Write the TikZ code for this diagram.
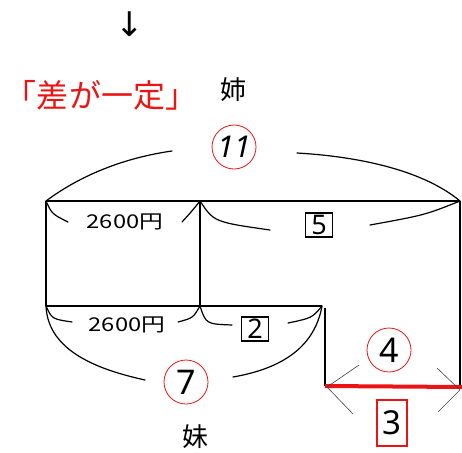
\documentclass[tikz,border=0pt]{standalone}
\usepackage{fontspec}
\setmainfont{Noto Sans}
\newfontfamily\jpfont{Noto Sans CJK JP}
\newfontfamily\symfont{DejaVu Sans}
\usetikzlibrary{shapes.geometric}
\definecolor{myred}{RGB}{235,20,20}
\tikzset{
  x=1pt, y=-1pt,
  ink/.style={line width=1.3pt, black},
  brace/.style={line width=1.2pt, black, line cap=round},
  thin/.style={line width=0.6pt, black!75},
  rcirc/.style={circle, draw=myred, line width=0.8pt, minimum size=44pt, inner sep=0pt, font=\fontsize{34}{34}\selectfont},
  bbox/.style={draw=black, line width=1.3pt, inner sep=1pt, minimum width=27pt, minimum height=24pt, font=\fontsize{27}{27}\selectfont},
  yen/.style={font=\fontsize{19}{19}\selectfont\jpfont, inner sep=0pt},
  jp/.style={font=\fontsize{26}{26}\selectfont\jpfont, inner sep=0pt},
}
\begin{document}
\begin{tikzpicture}
\useasboundingbox (0,0) rectangle (462,452);
% texts
\node[font=\fontsize{34}{34}\selectfont\symfont, inner sep=0pt] (arr) at (130,24) {↓};
\node[font=\fontsize{32}{32}\selectfont\jpfont, text=myred, inner sep=0pt] (title) at (101,95) {「差が一定」};
\node[jp] (ane) at (233,90) {姉};
\node[jp] (imo) at (195,437) {妹};
% corner points
\coordinate (A) at (46,201);
\coordinate (B) at (200,201);
\coordinate (C) at (460,201);
\coordinate (D) at (46,306);
\coordinate (E) at (200,306);
\coordinate (F) at (322,306);
\coordinate (Ft) at (325,308);
\coordinate (G) at (325,386);
\coordinate (H) at (462,387);
\coordinate (Cb) at (460,388);
% frame lines
\draw[ink] (A) -- (C);
\draw[ink] (A) -- (D);
\draw[ink] (B) -- (E);
\draw[ink] (D) -- (F);
\draw[ink] (Ft) -- (G);
\draw[ink] (C) -- (Cb);
\draw[myred, line width=4pt] (G) -- (H);
% labels
\node[rcirc, font=\fontsize{30}{30}\selectfont\itshape] (n11) at (234,147) {11};
\node[yen] (y1) at (125,222) {\scalebox{1.25}[1]{2600円}};
\node[bbox] (b5) at (319,225) {5};
\node[yen] (y2) at (127,325) {\scalebox{1.25}[1]{2600円}};
\node[bbox] (b2) at (255,329) {2};
\node[rcirc] (n7) at (186,382) {7};
\node[rcirc] (n4) at (389,350) {4};
\node[draw=myred, line width=1.2pt, minimum width=30pt, minimum height=46pt, inner sep=0pt, font=\fontsize{33}{33}\selectfont] (b3) at (392,423) {3};
% arc for 11
\coordinate (a1) at (172,151);
\coordinate (a2) at (297,153);
\draw[brace] (A) .. controls (85,172) and (130,157) .. (a1);
\draw[brace] (a2) .. controls (365,157) and (425,172) .. (C);
% upper braces
\coordinate (u1) at (68,222);
\coordinate (u2) at (182,222);
\coordinate (u3) at (270,230);
\coordinate (u4) at (370,225);
\draw[brace] (A) .. controls (52,214) .. (u1);
\draw[brace] (u2) .. controls (192,211) .. (B);
\draw[brace] (B) .. controls (214,222) .. (u3);
\draw[brace] (u4) .. controls (425,215) .. (C);
% lower braces
\coordinate (l1) at (72,322);
\coordinate (l2) at (178,322);
\coordinate (l3) at (232,325);
\coordinate (l4) at (288,323);
\draw[brace] (D) .. controls (52,319) .. (l1);
\draw[brace] (l2) .. controls (193,318) .. (E);
\draw[brace] (E) .. controls (206,324) .. (l3);
\draw[brace] (l4) .. controls (312,318) .. (F);
% arc for 7
\coordinate (s1) at (145,380);
\coordinate (s2) at (233,377);
\draw[brace] (D) .. controls (48,352) and (100,370) .. (s1);
\draw[brace] (s2) .. controls (285,368) and (315,345) .. (F);
% chevrons
\coordinate (c1) at (359,365);
\coordinate (c2) at (327,387);
\coordinate (c3) at (353,414);
\coordinate (c4) at (437,368);
\coordinate (c5) at (460,390);
\coordinate (c6) at (438,412);
\draw[thin] (c1) -- (c2) -- (c3);
\draw[thin] (c4) -- (c5) -- (c6);
\end{tikzpicture}
\end{document}
